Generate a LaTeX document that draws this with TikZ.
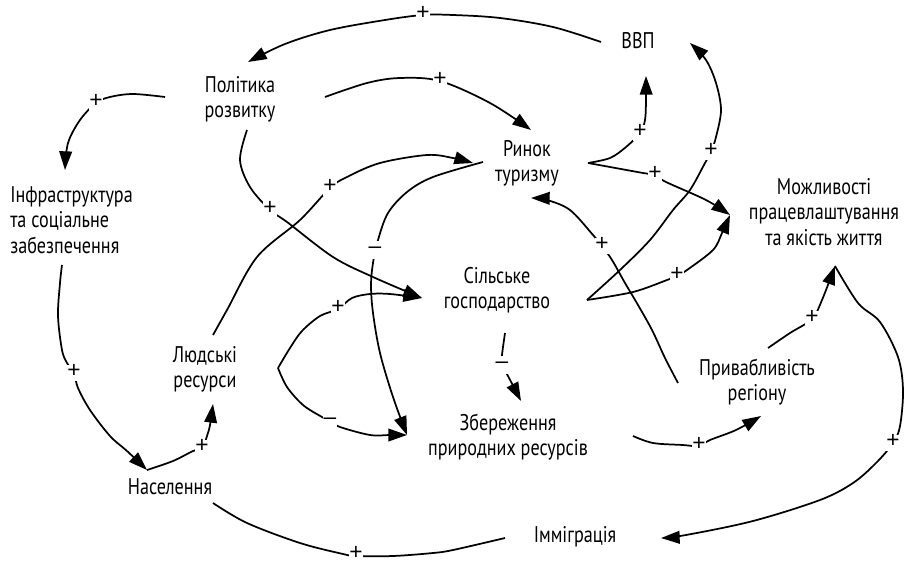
\documentclass[tikz,border=0pt]{standalone}
\usepackage{fontspec}
\setmainfont{PT Sans}[FakeStretch=0.8]
\newfontfamily\signfont{Liberation Sans}
\usetikzlibrary{arrows.meta}

\begin{document}
\begin{tikzpicture}[x=0.75pt,y=-0.75pt,
  lbl/.style={font=\fontsize{17}{19}\selectfont, align=center, inner sep=0pt},
  link/.style={line width=1.3pt, line join=round},
  arr/.style={link, -{Triangle[length=14pt,width=9.5pt]}},
  sgn/.style={font=\signfont\fontsize{17}{17}\selectfont, fill=white, inner sep=0pt,
    text height=0.62em, text depth=0pt, minimum width=10pt, minimum height=12pt},
  neg/.style={sgn, text height=0.55em, minimum height=14pt},
  curve/.style={smooth, tension=0.55}
]
\useasboundingbox[fill=white] (0,0) rectangle (906,567);

% variables of the causal loop diagram
\node[lbl] (gdp)  at (638,41)  {ВВП};
\node[lbl] (pol)  at (240,99)  {Політика\\розвитку};
\node[lbl] (mkt)  at (527,163) {Ринок\\туризму};
\node[lbl, align=left, anchor=west] (inf) at (10,220) {Інфраструктура\\та соціальне\\забезпечення};
\node[lbl] (emp)  at (824,212) {Можливості\\працевлаштування\\та якість життя};
\node[lbl] (agr)  at (497,290) {Сільське\\господарство};
\node[lbl] (hr)   at (205,369) {Людські\\ресурси};
\node[lbl] (pop)  at (170,487) {Населення};
\node[lbl] (cons) at (508,437) {Збереження\\природних ресурсів};
\node[lbl] (attr) at (757,382) {Привабливість\\регіону};
\node[lbl] (imm)  at (575,537) {Імміграція};

% ends of the links around the variables
\coordinate (gdp-w)   at (601,42);
\coordinate (gdp-s)   at (646,76);
\coordinate (gdp-e)   at (690,43);
\coordinate (pol-in)  at (248,62);
\coordinate (pol-w)   at (165,97);
\coordinate (pol-e)   at (325,97);
\coordinate (pol-s)   at (247,130);
\coordinate (inf-in)  at (65,170);
\coordinate (inf-s)   at (62,265);
\coordinate (mkt-nw)  at (531,130);
\coordinate (mkt-w)   at (473,163);
\coordinate (mkt-w2)  at (483,162);
\coordinate (mkt-e)   at (588,163);
\coordinate (mkt-s)   at (531,198);
\coordinate (emp-w)   at (730,215);
\coordinate (emp-se)  at (835,266);
\coordinate (agr-w)   at (422,298);
\coordinate (agr-e)   at (587,300);
\coordinate (agr-s)   at (505,333);
\coordinate (hr-n)    at (213,335);
\coordinate (hr-e)    at (278,368);
\coordinate (hr-s)    at (213,404);
\coordinate (pop-nw)  at (147,470);
\coordinate (pop-e)   at (213,503);
\coordinate (cons-w)  at (407,435);
\coordinate (cons-n)  at (521,401);
\coordinate (cons-e)  at (633,436);
\coordinate (attr-ne) at (768,348);
\coordinate (attr-nw) at (678,383);
\coordinate (attr-sw) at (761,416);
\coordinate (imm-w)   at (505,538);
\coordinate (imm-e)   at (661,538);

% links
\draw[arr] plot[curve] coordinates {(gdp-w) (553,27) (500,18) (453,15) (423,15) (385,20) (330,30) (285,44) (pol-in)};
\draw[arr] plot[curve] coordinates {(pol-w) (133,94) (110,97) (96,103) (80,120) (68,143) (inf-in)};
\draw[arr] plot[curve] coordinates {(pol-e) (367,83) (400,78) (440,81) (490,103) (mkt-nw)};
\draw[arr] plot[curve] coordinates {(pol-s) (240,160) (250,187) (270,210) (287,222) (333,257) (373,277) (agr-w)};
\draw[arr] plot[curve] coordinates {(hr-n) (227,310) (257,257) (300,220) (330,188) (347,177) (380,163) (427,155) (453,158) (mkt-w)};
\draw[arr] plot[curve] coordinates {(mkt-w2) (433,177) (407,192) (388,213) (378,240) (373,263) (371,285) (373,313) (380,353) (393,397) (cons-w)};
\draw[arr] plot[curve] coordinates {(hr-e) (290,348) (302,331) (320,316) (338,309) (352,298) (370,294) (390,294) (agr-w)};
\draw[arr] plot[curve] coordinates {(hr-e) (287,387) (303,405) (322,417) (330,421) (340,427) (370,435) (390,435) (cons-w)};
\draw[arr] plot[curve] coordinates {(inf-s) (60,283) (58,316) (62,350) (67,363) (74,373) (78,388) (90,410) (110,436) (127,451) (pop-nw)};
\draw[arr] plot[curve] coordinates {(pop-nw) (173,461) (193,451) (202,448) (207,436) (210,425) (hr-s)};
\draw[link] plot[curve] coordinates {(pop-e) (247,523) (300,543) (343,554) (356,556) (393,556) (433,553) (453,550) (imm-w)};
\draw[arr] plot[curve] coordinates {(emp-se) (858,303) (880,322) (898,357) (903,390) (900,426) (893,443) (876,463) (853,483) (820,500) (753,521) (686,535) (imm-e)};
\draw[arr] plot[curve] coordinates {(attr-ne) (790,333) (812,319) (822,300) (emp-se)};
\draw[arr] plot[curve] coordinates {(attr-nw) (665,358) (652,330) (638,305) (625,283) (612,260) (602,246) (593,235) (570,210) (547,200) (mkt-s)};
\draw[arr] plot[curve] coordinates {(cons-e) (653,443) (683,445) (699,446) (710,440) (736,430) (attr-sw)};
\draw[arr] plot[curve] coordinates {(agr-s) (502,355) (502,365) (508,376) (cons-n)};
\draw[arr] plot[curve] coordinates {(mkt-e) (610,158) (626,147) (640,133) (645,120) (646,100) (gdp-s)};
\draw[arr] plot[curve] coordinates {(mkt-e) (610,167) (643,173) (655,175) (666,182) (706,200) (emp-w)};
\draw[arr] plot[curve] coordinates {(agr-e) (620,270) (650,240) (673,210) (690,190) (705,163) (711,152) (716,137) (721,110) (716,83) (706,60) (gdp-e)};
\draw[arr] plot[curve] coordinates {(agr-e) (633,292) (667,280) (677,276) (687,270) (713,250) (722,233) (emp-w)};

% polarity signs
\node[sgn] (s1)  at (423,15)  {+};
\node[sgn] (s2)  at (96,103)  {+};
\node[sgn] (s3)  at (440,81)  {+};
\node[sgn] (s4)  at (270,210) {+};
\node[sgn] (s5)  at (330,188) {+};
\node[neg] (s6)  at (375,250) {–};
\node[sgn] (s7)  at (338,309) {+};
\node[neg] (s8)  at (330,421) {–};
\node[sgn] (s9)  at (74,373)  {+};
\node[sgn] (s10) at (202,448) {+};
\node[sgn] (s11) at (356,555) {+};
\node[sgn] (s12) at (893,443) {+};
\node[sgn] (s13) at (812,319) {+};
\node[sgn] (s14) at (602,246) {+};
\node[sgn] (s15) at (699,446) {+};
\node[neg] (s16) at (502,365) {–};
\node[sgn] (s17) at (640,133) {+};
\node[sgn] (s18) at (655,175) {+};
\node[sgn] (s19) at (711,152) {+};
\node[sgn] (s20) at (677,276) {+};
\end{tikzpicture}
\end{document}
